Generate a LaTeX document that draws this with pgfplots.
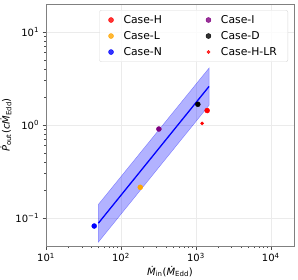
\documentclass[border=0pt]{standalone}
\usepackage{fontspec}
\setmainfont{DejaVu Sans}
\usepackage{pgfplots}
\pgfplotsset{compat=1.18}
\definecolor{mplorange}{RGB}{255,165,0}
\definecolor{mplpurple}{RGB}{128,0,128}
\definecolor{spine}{RGB}{128,128,128}
\begin{document}
\begin{tikzpicture}
\begin{axis}[
  scale only axis, width=248pt, height=242pt,
  xmode=log, ymode=log,
  xmin=10, xmax=20400, ymin=0.05, ymax=20,
  xtick={10,100,1000,10000},
  xticklabels={10\textsuperscript{1},10\textsuperscript{2},10\textsuperscript{3},10\textsuperscript{4}},
  ytick={0.1,1,10},
  yticklabels={10\textsuperscript{−1},10\textsuperscript{0},10\textsuperscript{1}},
  tick align=outside, tick pos=left,
  major tick length=3.5pt, minor tick length=2pt,
  every tick/.style={black!70},
  axis line style={spine},
  grid=major, major grid style={black!8},
  tick label style={font=\fontsize{10}{12}\selectfont},
  label style={font=\fontsize{10}{12}\selectfont},
  xlabel={\textit{\.M}\textsubscript{in}(\textit{\.M}\textsubscript{Edd})},
  ylabel={\textit{\.P}\textsubscript{out}(\textit{c\.M}\textsubscript{Edd})},
  xlabel style={yshift=3pt},
  ylabel style={yshift=-3pt},
  legend columns=2,
  legend image code/.code={\draw[mark repeat=2,mark phase=2,#1] plot coordinates {(0cm,0cm)(0.35cm,0cm)(0.7cm,0cm)};},
  legend style={at={(0.976,0.975)}, anchor=north east, font=\fontsize{10.8}{13}\selectfont,
    draw=black!15, rounded corners=2pt, fill=white, fill opacity=0.8, text opacity=1,
    inner xsep=9pt, inner ysep=3pt,
    /tikz/every odd column/.append style={column sep=8pt},
    /tikz/every even column/.append style={column sep=42pt}, row sep=2.5pt},
  legend cell align=left,
]
\addplot[draw=blue, fill=blue, fill opacity=0.3, draw opacity=0.4, forget plot]
  coordinates {(50,0.055) (1500,1.63) (1500,4.1) (50,0.14)} -- cycle;
\addplot[blue, line width=1.3pt, forget plot] coordinates {(50,0.088) (1500,2.6)};
\addplot[only marks, mark=*, mark size=2.5pt, red, mark options={draw=none}] coordinates {(1415,1.43)};
\addlegendentry{Case-H}
\addplot[only marks, mark=*, mark size=2.5pt, mplpurple, mark options={draw=none}] coordinates {(321,0.905)};
\addlegendentry{Case-I}
\addplot[only marks, mark=*, mark size=2.5pt, mplorange, mark options={draw=none}] coordinates {(181,0.214)};
\addlegendentry{Case-L}
\addplot[only marks, mark=*, mark size=2.5pt, black, mark options={draw=none}] coordinates {(1063,1.67)};
\addlegendentry{Case-D}
\addplot[only marks, mark=*, mark size=2.5pt, blue, mark options={draw=none}] coordinates {(44,0.082)};
\addlegendentry{Case-N}
\addplot[only marks, mark=*, mark size=1.6pt, red, mark options={draw=none}] coordinates {(1213,1.04)};
\addlegendentry{Case-H-LR}
\end{axis}
\pgfresetboundingbox
\path (current axis.south west) ++(-46pt,-33pt);
\path (current axis.north east) ++(4pt,4pt);
\end{tikzpicture}
\end{document}
